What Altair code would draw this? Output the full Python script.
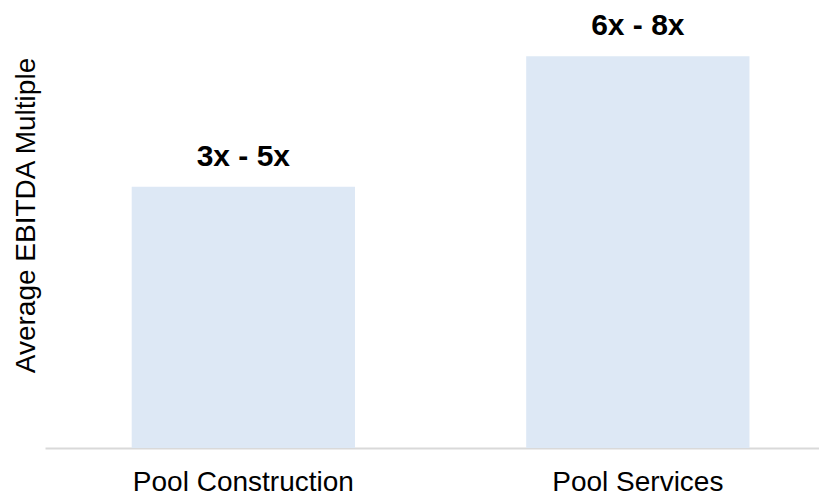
import altair as alt
import pandas as pd

categories = ["Pool Construction", "Pool Services"]
values = [4, 6]
range_labels = ["3x - 5x", "6x - 8x"]

df = pd.DataFrame({"segment": categories, "multiple": values, "label": range_labels})

FONT = "Liberation Sans, Arial, sans-serif"

x_enc = alt.X(
    "segment:N",
    sort=categories,
    scale=alt.Scale(paddingInner=0.434, paddingOuter=0.198, align=0.555),
    axis=alt.Axis(
        title=None,
        labelAngle=0,
        labelFont=FONT,
        labelFontSize=28,
        labelColor="#000000",
        labelBaseline="alphabetic",
        labelPadding=42,
        labelLimit=0,
        ticks=False,
        domain=True,
        domainColor="#d9d9d9",
        domainWidth=2,
        grid=False,
    ),
)

y_enc = alt.Y(
    "multiple:Q",
    scale=alt.Scale(domain=[0, 6.74], nice=False, zero=True),
    axis=alt.Axis(
        title="Average EBITDA Multiple",
        titleFont=FONT,
        titleFontSize=28,
        titleFontWeight="normal",
        titleColor="#000000",
        titleAngle=270,
        titleX=-11,
        titleY=207,
        titleAlign="center",
        titleBaseline="alphabetic",
        labels=False,
        ticks=False,
        domain=False,
        grid=False,
    ),
)

bars = alt.Chart(df).mark_bar(color="#dde8f5").encode(x=x_enc, y=y_enc)

text = alt.Chart(df).mark_text(
    font=FONT,
    fontSize=30,
    fontWeight="bold",
    color="#000000",
    baseline="alphabetic",
    align="center",
    dy=-21,
).encode(x=alt.X("segment:N", sort=categories), y=alt.Y("multiple:Q"), text="label:N")

chart = (
    alt.layer(bars, text)
    .properties(
        width=774,
        height=440,
        autosize=alt.AutoSizeParams(type="none"),
        padding={"left": 37, "top": 0, "right": 0, "bottom": 48},
    )
    .configure_view(stroke=None)
)

chart.save("out.html", embed_options={"renderer": "svg", "actions": False})
